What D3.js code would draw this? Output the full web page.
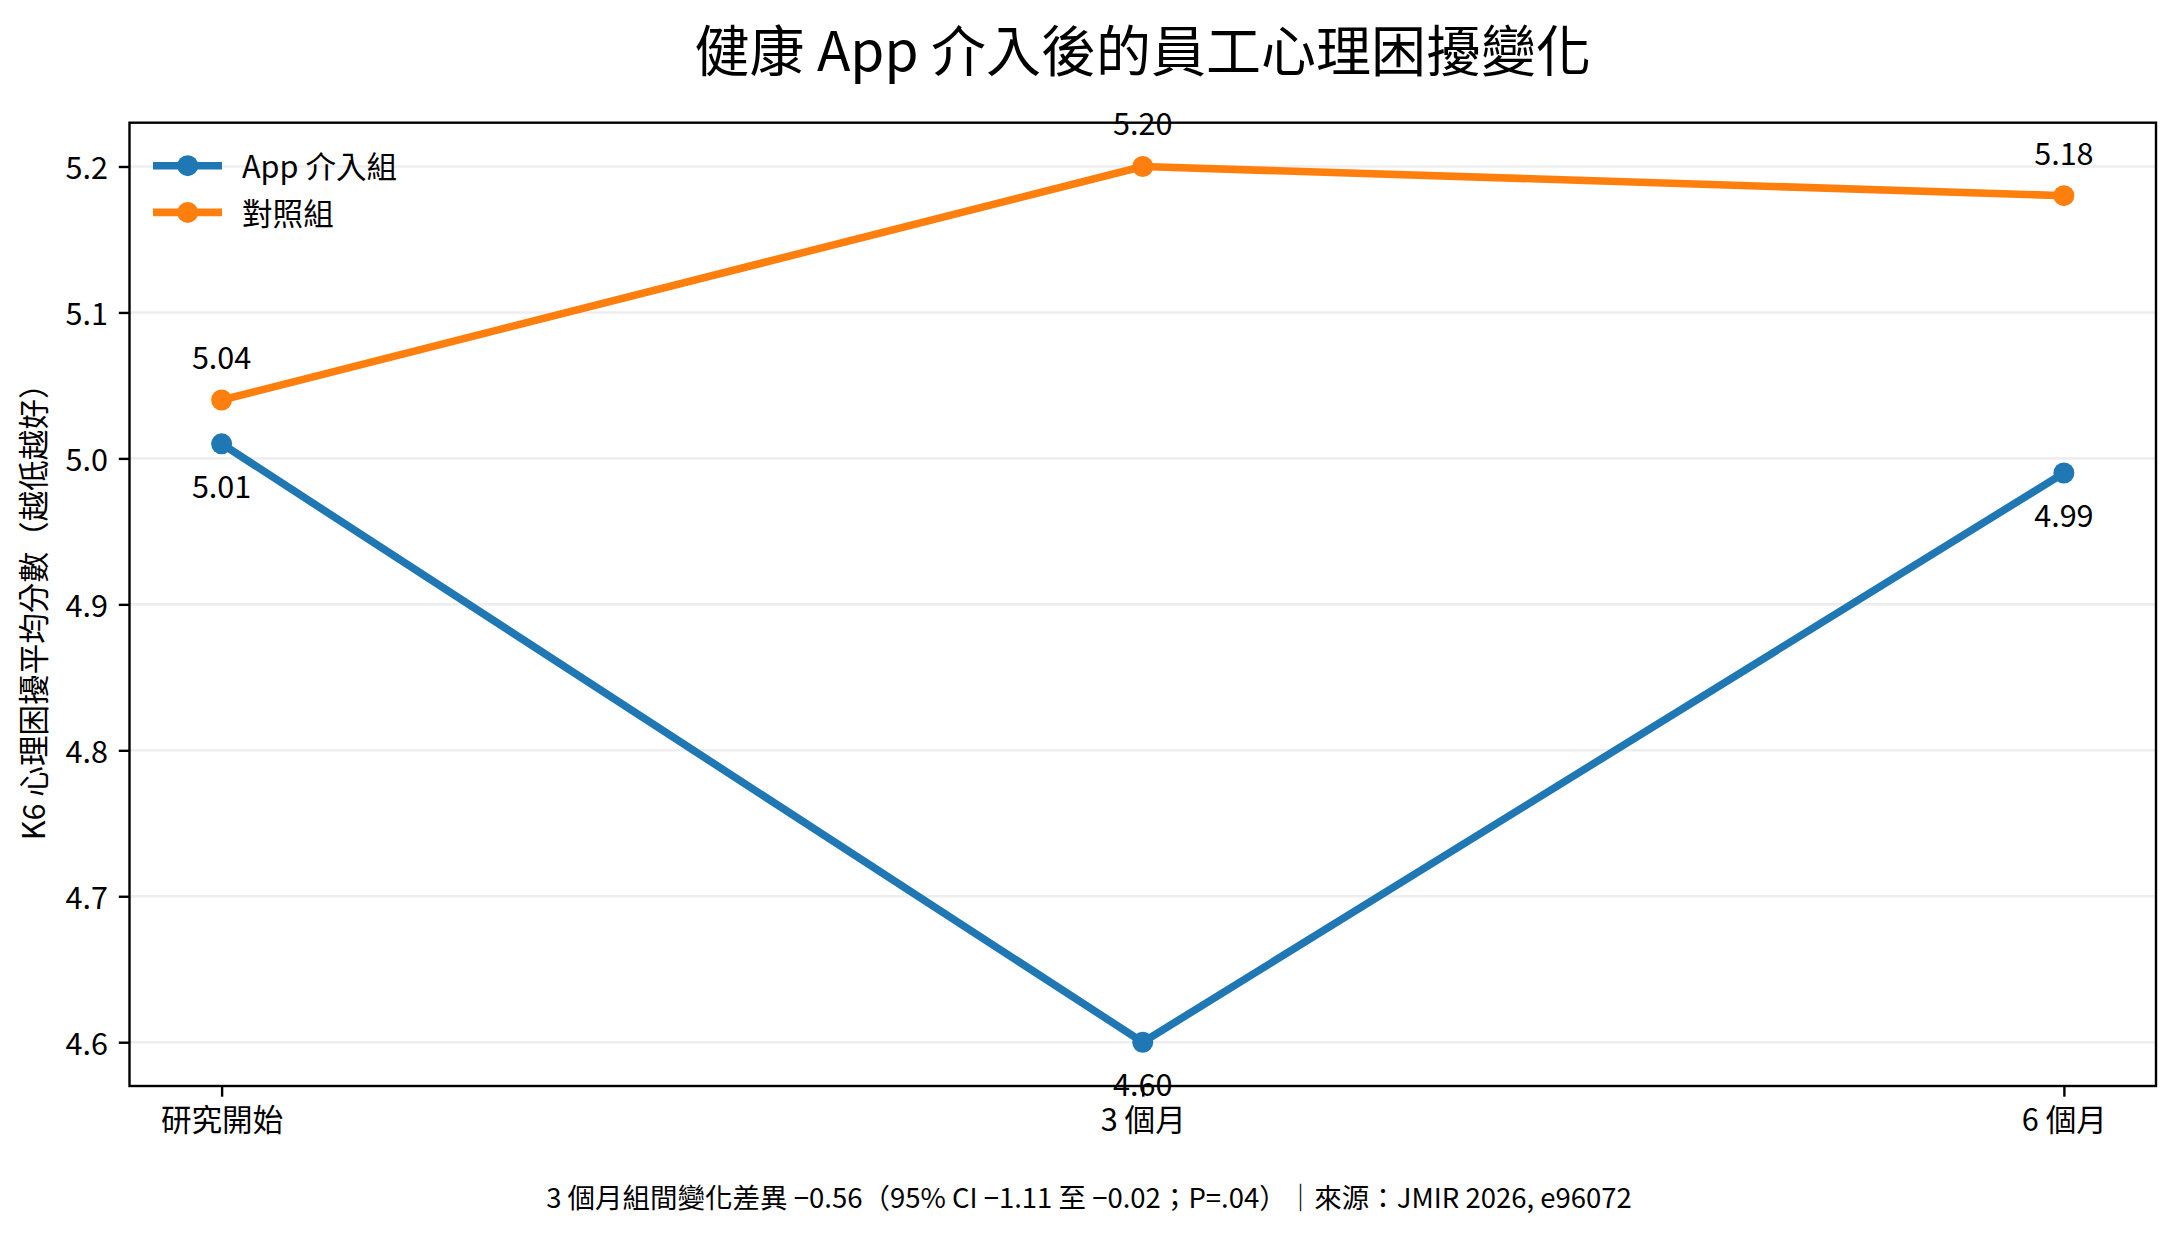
<!DOCTYPE html>
<html>
<head>
<meta charset="utf-8">
<script src="https://cdn.jsdelivr.net/npm/d3@7"></script>
<style>
  html, body { margin: 0; padding: 0; background: #ffffff; }
  svg { display: block; }
  text { font-family: "Noto Sans CJK TC", "Noto Sans CJK SC", "Noto Sans", sans-serif; fill: #000; }
</style>
</head>
<body>
<script>
// ---- data ----
const categories = ["研究開始", "3 個月", "6 個月"];
const appValues = [5.01, 4.60, 4.99];
const controlValues = [5.04, 5.20, 5.18];
const seriesNames = ["App 介入組", "對照組"];
const seriesColors = ["#1f77b4", "#ff7f0e"];
const yTickValues = [4.6, 4.7, 4.8, 4.9, 5.0, 5.1, 5.2];
const titleText = "健康 App 介入後的員工心理困擾變化";
const yLabelText = "K6 心理困擾平均分數（越低越好）";
const footerText = "3 個月組間變化差異 −0.56（95% CI −1.11 至 −0.02；P=.04）｜來源：JMIR 2026, e96072";

// ---- layout ----
const W = 2178, H = 1236;
const plot = { left: 129.5, right: 2156, top: 122.7, bottom: 1086 };
const fs = 30.6;           // 10pt
const tickLen = 10.7;
const lineW = 7.6;
const markerR = 10.5;

const svg = d3.select("body").append("svg")
  .attr("width", W).attr("height", H)
  .attr("viewBox", `0 0 ${W} ${H}`);

svg.append("rect").attr("width", W).attr("height", H).attr("fill", "#fff");

const x = d3.scalePoint().domain(categories).range([plot.left, plot.right]).padding(0.1);
const y = d3.scaleLinear().domain([4.57, 5.23]).range([plot.bottom, plot.top]);

// grid
svg.append("g").selectAll("line").data(yTickValues).join("line")
  .attr("x1", plot.left).attr("x2", plot.right)
  .attr("y1", d => y(d)).attr("y2", d => y(d))
  .attr("stroke", "#b0b0b0").attr("stroke-opacity", 0.22).attr("stroke-width", 2.6);

// series
const series = [
  { name: seriesNames[0], color: seriesColors[0], values: appValues, above: false },
  { name: seriesNames[1], color: seriesColors[1], values: controlValues, above: true }
];

const line = d3.line().x((d, i) => x(categories[i])).y(d => y(d));

series.forEach(s => {
  const g = svg.append("g");
  g.append("path").datum(s.values)
    .attr("d", line).attr("fill", "none")
    .attr("stroke", s.color).attr("stroke-width", lineW)
    .attr("stroke-linejoin", "round").attr("stroke-linecap", "butt");
  g.selectAll("circle").data(s.values).join("circle")
    .attr("cx", (d, i) => x(categories[i])).attr("cy", d => y(d))
    .attr("r", markerR).attr("fill", s.color);
});

// frame
svg.append("rect")
  .attr("x", plot.left).attr("y", plot.top)
  .attr("width", plot.right - plot.left).attr("height", plot.bottom - plot.top)
  .attr("fill", "none").attr("stroke", "#000").attr("stroke-width", 2.4);

// axes
const yAxis = d3.axisLeft(y).tickValues(yTickValues).tickFormat(d3.format(".1f"))
  .tickSize(tickLen).tickSizeOuter(0).tickPadding(10.8);
const gy = svg.append("g").attr("transform", `translate(${plot.left},0)`).call(yAxis);
gy.select(".domain").remove();
gy.selectAll(".tick line").attr("stroke", "#000").attr("stroke-width", 2.4);
gy.selectAll(".tick text").attr("font-size", fs).attr("dy", "0.4em")
  .attr("font-family", '"Noto Sans CJK TC", sans-serif').attr("fill", "#000");

const xAxis = d3.axisBottom(x).tickSize(tickLen).tickSizeOuter(0).tickPadding(12.6);
const gx = svg.append("g").attr("transform", `translate(0,${plot.bottom})`).call(xAxis);
gx.select(".domain").remove();
gx.selectAll(".tick line").attr("stroke", "#000").attr("stroke-width", 2.4);
gx.selectAll(".tick text").attr("font-size", fs)
  .attr("font-family", '"Noto Sans CJK TC", sans-serif').attr("fill", "#000");

// value labels
series.forEach(s => {
  svg.append("g").selectAll("text").data(s.values).join("text")
    .attr("x", (d, i) => x(categories[i]))
    .attr("y", d => s.above ? y(d) - 31 : y(d) + 54)
    .attr("text-anchor", "middle")
    .attr("font-size", fs)
    .text(d => d3.format(".2f")(d));
});

// legend
const legend = svg.append("g");
series.forEach((s, i) => {
  const ly = 165.7 + i * 46.7;
  legend.append("line").attr("x1", 153).attr("x2", 222).attr("y1", ly).attr("y2", ly)
    .attr("stroke", s.color).attr("stroke-width", lineW);
  legend.append("circle").attr("cx", 187.7).attr("cy", ly).attr("r", markerR).attr("fill", s.color);
  legend.append("text").attr("x", 242).attr("y", ly + 12.4)
    .attr("font-size", fs).text(s.name);
});

// title
svg.append("text").attr("x", (plot.left + plot.right) / 2).attr("y", 70.7)
  .attr("text-anchor", "middle").attr("font-size", 55).text(titleText);

// y label
svg.append("text")
  .attr("transform", `translate(45,${(plot.top + plot.bottom) / 2}) rotate(-90)`)
  .attr("text-anchor", "middle").attr("font-size", fs).text(yLabelText);

// footer
svg.append("text").attr("x", W / 2).attr("y", 1208)
  .attr("text-anchor", "middle").attr("font-size", 27.5).text(footerText);
</script>
</body>
</html>
